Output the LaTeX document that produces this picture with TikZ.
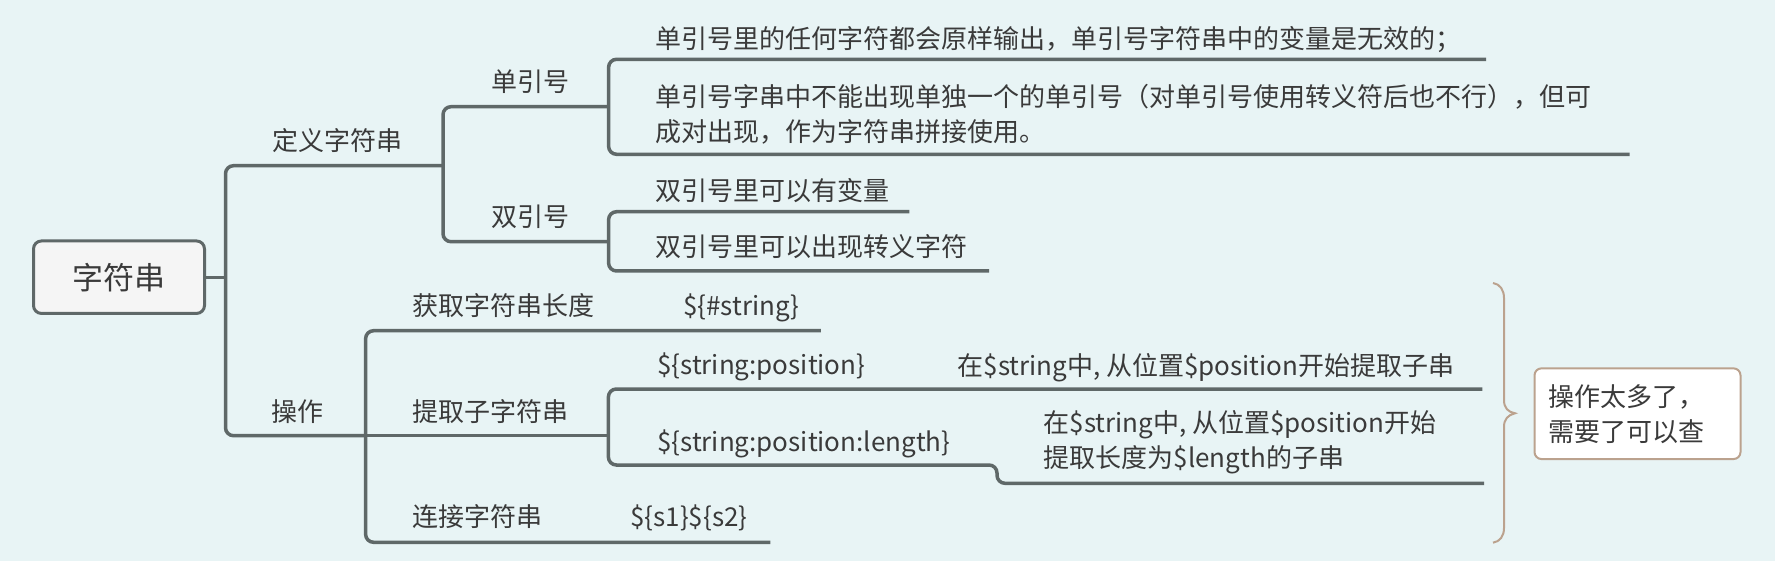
\documentclass[tikz,border=0pt]{standalone}
\usepackage{fontspec}
\newfontfamily\cjk{Noto Sans CJK SC}
\definecolor{bg}{HTML}{E8F4F5}
\definecolor{ln}{HTML}{5F6868}
\definecolor{tx}{HTML}{3A3A3A}
\definecolor{tanc}{HTML}{BBA28E}
\definecolor{rootfill}{HTML}{F5F5F5}
\begin{document}
\begin{tikzpicture}[x=1pt,y=-1pt,
  conn/.style={draw=ln,line width=3.5pt,rounded corners=8pt},
  lbl/.style={anchor=west,inner sep=0pt,text=tx,font=\cjk\fontsize{26}{35}\selectfont,text height=21pt,text depth=4pt},
  lbltwo/.style={anchor=west,inner sep=0pt,text=tx,font=\cjk\fontsize{26}{35}\selectfont,align=left},
  rootbox/.style={draw=ln,line width=3pt,fill=rootfill,rounded corners=8pt,minimum width=171pt,minimum height=72.5pt,inner sep=0pt,text=tx,font=\cjk\fontsize{31}{31}\selectfont},
  notebox/.style={draw=tanc,line width=2pt,fill=white,rounded corners=7pt,minimum height=90.7pt,text width=178pt,inner xsep=14pt,inner ysep=0pt,align=left,text=tx,font=\cjk\fontsize{26}{35}\selectfont},
  bracestyle/.style={draw=tanc,line width=2pt}
]
\fill[bg] (0,0) rectangle (1775,561);
\useasboundingbox (0,0) rectangle (1775,561);

% root
\node[rootbox] (root) at (119,277.2) {字符串};

% level 1
\node[lbl] (dy) at (272,141.7) {定义字符串};
\node[lbl] (cz) at (271,413.3) {操作};

% level 2
\node[lbl] (dyh) at (491.7,83.3) {单引号};
\node[lbl] (syh) at (491.7,218.3) {双引号};
\node[lbl] (hq) at (412,306.7) {获取字符串长度};
\node[lbl] (tq) at (412,413.3) {提取子字符串};
\node[lbl] (lj) at (412,518.3) {连接字符串};

% level 3
\node[lbl] (a1) at (655.5,40) {单引号里的任何字符都会原样输出，单引号字符串中的变量是无效的；};
\node[lbltwo] (a2) at (655.5,114.2) {单引号字串中不能出现单独一个的单引号（对单引号使用转义符后也不行），但可\\成对出现，作为字符串拼接使用。};
\node[lbl] (b1) at (655.5,191.7) {双引号里可以有变量};
\node[lbl] (b2) at (655.5,248.3) {双引号里可以出现转义字符};
\node[lbl] (hqv) at (683,306.7) {\$\{\#string\}};
\node[lbl] (p1) at (657,366) {\$\{string:position\}};
\node[lbl] (p1d) at (957.4,366.7) {在\$string中, 从位置\$position开始提取子串};
\node[lbl] (p2) at (657,442.7) {\$\{string:position:length\}};
\node[lbltwo] (p2d) at (1043.5,442.5) {在\$string中, 从位置\$position开始\\提取长度为\$length的子串};
\node[lbl] (ljv) at (630,518.3) {\$\{s1\}\$\{s2\}};

% connector coordinates
\coordinate (m) at (225.5,277.2);
\coordinate (dyE) at (443,165.7);
\coordinate (czE) at (365.6,435.7);
\coordinate (sE) at (608.6,106.7);
\coordinate (shE) at (608.6,241.7);
\coordinate (a1E) at (1486,59.3);
\coordinate (a2E) at (1629.7,154.3);
\coordinate (b1E) at (909.4,211.7);
\coordinate (b2E) at (989,271);
\coordinate (c1E) at (820.8,330.7);
\coordinate (c3E) at (770.3,542.3);
\coordinate (tqE) at (608.4,435.7);
\coordinate (p1E) at (1482.4,389);
\coordinate (p2J) at (997,465);
\coordinate (p2E) at (1484.2,483.3);

% connectors
\draw[conn,line width=3pt] (root.east) -- (m);
\draw[conn] (dyE) -| (m) |- (czE);
\draw[conn] (sE) -| (dyE) |- (shE);
\draw[conn] (a1E) -| (sE) |- (a2E);
\draw[conn] (b1E) -| (shE) |- (b2E);
\draw[conn] (c1E) -| (czE) |- (c3E);
\draw[conn] (czE) -- (tqE);
\draw[conn] (p1E) -| (tqE) |- (p2J) |- (p2E);

% brace
\draw[bracestyle] (1493,283) .. controls (1500,284) and (1504,290) .. (1504,298) -- (1504,400) .. controls (1504,408) and (1508,412) .. (1515,413.3) .. controls (1508,415) and (1504,419) .. (1504,427) -- (1504,528) .. controls (1504,536) and (1500,541.7) .. (1493,542.7);

% note
\node[notebox] (note) at (1637.5,413.7) {操作太多了，\\需要了可以查};
\end{tikzpicture}
\end{document}
